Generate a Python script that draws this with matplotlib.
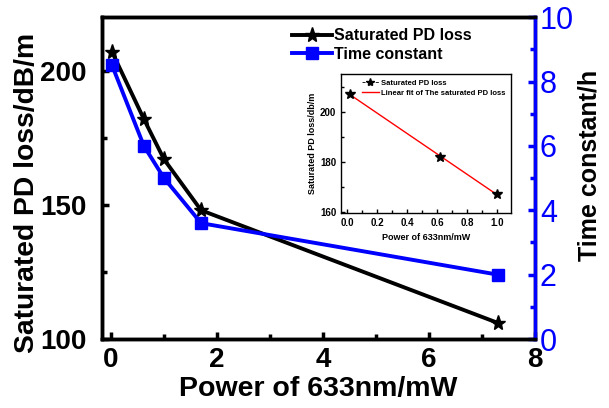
import numpy as np
import matplotlib.pyplot as plt
from matplotlib.lines import Line2D

plt.rcParams['font.family'] = ['Liberation Sans', 'DejaVu Sans']

# data
power = [0.02, 0.62, 1.0, 1.7, 7.3]
pd_loss = [207, 182, 167, 148, 106]
time_const = [8.5, 6.0, 5.0, 3.6, 2.0]

inset_power = [0.02, 0.62, 1.0]
inset_loss = [207, 182, 167]

fig = plt.figure(figsize=(6.09, 4.08), dpi=100)
ax = fig.add_axes([0.1675, 0.169, 0.711, 0.789])
ax2 = ax.twinx()

l1, = ax.plot(power, pd_loss, color='black', lw=2.8, marker='*', ms=11,
              label='Saturated PD loss', zorder=3)
l2, = ax2.plot(power, time_const, color='#0000ff', lw=2.8, marker='s', ms=8,
               label='Time constant', zorder=3)

ax.set_xlim(-0.17, 8)
ax.set_ylim(100, 220)
ax2.set_ylim(0, 10)
ax.set_xticks([0, 2, 4, 6, 8])
ax.set_xticks([1, 3, 5, 7], minor=True)
ax.set_yticks([100, 150, 200])
ax.set_yticks([125, 175], minor=True)
ax2.set_yticks([0, 2, 4, 6, 8, 10])
ax2.set_yticks([1, 3, 5, 7, 9], minor=True)

for s in ax.spines.values():
    s.set_linewidth(2.5)
for s in ax2.spines.values():
    s.set_linewidth(2.5)
ax2.spines['right'].set_color('#0000ff')

ax.tick_params(which='both', direction='in', width=2.5, labelsize=20)
ax.tick_params(which='major', length=5)
ax.tick_params(which='minor', length=3.5)
ax.tick_params(axis='x', top=False, pad=6)
ax.tick_params(axis='y', pad=11)
for t in ax.get_xticklabels() + ax.get_yticklabels():
    t.set_fontweight('bold')
ax2.tick_params(which='both', direction='in', width=2.5, colors='#0000ff',
                labelsize=22)
ax2.tick_params(which='major', length=5)
ax2.tick_params(which='minor', length=3.5)

ax.set_xlabel('Power of 633nm/mW', fontsize=20.5, fontweight='bold', labelpad=2)
ax.set_ylabel('Saturated PD loss/dB/m', fontsize=20.3, fontweight='bold')
ax.yaxis.set_label_coords(-0.143, 0.453)
ax2.set_ylabel('Time constant/h', fontsize=18, fontweight='bold')
ax2.yaxis.set_label_coords(1.097, 0.54)

ax.legend([l1, l2], ['Saturated PD loss', 'Time constant'], loc='upper left',
          bbox_to_anchor=(0.413, 1.0), frameon=False,
          prop={'weight': 'bold', 'size': 11.5}, handlelength=2.5,
          handletextpad=0.1, borderaxespad=0.3, labelspacing=0.2)

# inset with linear fit
ins = fig.add_axes([0.560, 0.478, 0.279, 0.341])
fit = np.polyfit(inset_power, inset_loss, 1)
ins.plot(inset_power, np.polyval(fit, inset_power), color='red', lw=1)
ins.plot(inset_power, inset_loss, ls='none', marker='*', color='black', ms=7)
ins.set_xlim(-0.04, 1.09)
ins.set_ylim(159.6, 215.2)
ins.set_xticks([0.0, 0.2, 0.4, 0.6, 0.8, 1.0])
ins.set_xticks([0.1, 0.3, 0.5, 0.7, 0.9], minor=True)
ins.set_yticks([160, 180, 200])
ins.set_yticks([170, 190, 210], minor=True)
ins.xaxis.set_major_formatter(plt.FormatStrFormatter('%.1f'))
ins.tick_params(which='both', direction='in', labelsize=7, width=1)
ins.tick_params(which='major', length=3)
ins.tick_params(which='minor', length=2)
for t in ins.get_xticklabels() + ins.get_yticklabels():
    t.set_fontweight('bold')
for s in ins.spines.values():
    s.set_linewidth(1)
ins.set_xlabel('Power of 633nm/mW', fontsize=6.5, fontweight='bold')
ins.set_ylabel('Saturated PD loss/db/m', fontsize=6.5, fontweight='bold', labelpad=2)
leg_star = Line2D([], [], color='black', ls='--', lw=0.6, marker='*', ms=6)
leg_fit = Line2D([], [], color='red', lw=1)
ins.legend([leg_star, leg_fit],
           ['Saturated PD loss', 'Linear fit of The saturated PD loss'],
           loc='upper right', frameon=False,
           prop={'weight': 'bold', 'size': 5.5}, handlelength=2.2,
           handletextpad=0.3, labelspacing=0.4, borderaxespad=0.3)

fig.savefig('out.png', dpi=100)
